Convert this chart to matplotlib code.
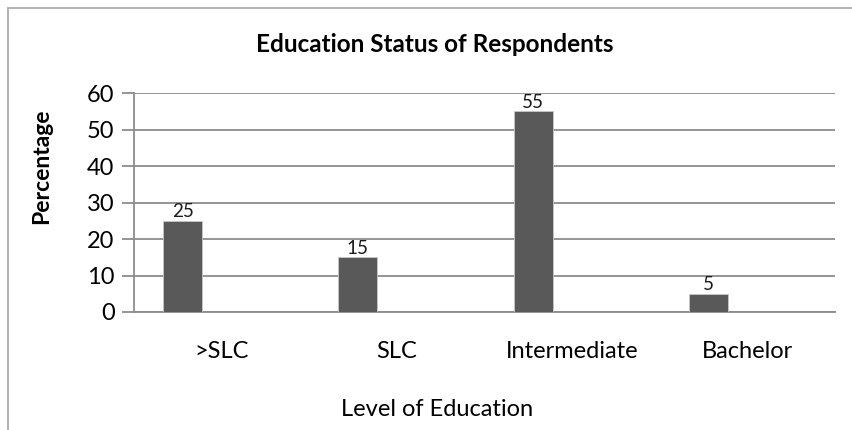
import numpy as np
import matplotlib.pyplot as plt
from matplotlib.patches import Rectangle

# Data
categories = [">SLC", "SLC", "Intermediate", "Bachelor"]
percentages = [25, 15, 55, 5]
y_ticks = [0, 10, 20, 30, 40, 50, 60]

plt.rcParams['font.family'] = ['Lato', 'DejaVu Sans']

W, H = 852, 430
fig = plt.figure(figsize=(W / 100, H / 100), dpi=100)

# chart border (Excel-style frame, runs off the right/bottom edges)
fig.patches.append(Rectangle((8 / W, -0.1), 1.2, 1 - 8 / H + 0.1,
                             transform=fig.transFigure, fill=False,
                             edgecolor='#a6a6a6', linewidth=1.2))

# plot area in pixels: x 134..835, y 93..312
ax = fig.add_axes([134 / W, 1 - 312 / H, (835 - 134) / W, (312 - 93) / H])

x = np.arange(len(categories))
w = 0.2225
bars = ax.bar(x - w, percentages, width=w, color='#595959',
              edgecolor='#c8c8c8', linewidth=0.6, zorder=3)

for b, v in zip(bars, percentages):
    ax.text(b.get_x() + b.get_width() / 2, v + 0.2, str(v),
            ha='center', va='bottom', fontsize=13.5, color='#1a1a1a')

ax.set_xlim(-0.5, len(categories) - 0.5)
ax.set_ylim(0, 60)
ax.set_yticks(y_ticks)
ax.set_yticklabels([str(t) for t in y_ticks], fontsize=17)
ax.yaxis.grid(True, color='#8c8c8c', linewidth=1.3, zorder=0)
ax.set_axisbelow(True)

ax.set_xticks(x)
ax.set_xticklabels(categories, fontsize=17)
ax.tick_params(axis='x', length=0, pad=21)
ax.tick_params(axis='y', length=9, width=1.3, color='#8c8c8c', pad=5)

for s in ['top', 'right']:
    ax.spines[s].set_visible(False)
for s in ['left', 'bottom']:
    ax.spines[s].set_color('#8c8c8c')
    ax.spines[s].set_linewidth(1.3)

fig.text(435 / W, 1 - 45 / H, "Education Status of Respondents",
         ha='center', va='center', fontsize=17.5, fontweight='bold')
fig.text(42 / W, 1 - 166 / H, "Percentage", rotation=90,
         ha='center', va='center', fontsize=16.5, fontweight='bold')
fig.text(437 / W, 1 - 410 / H, "Level of Education",
         ha='center', va='center', fontsize=17)

fig.savefig("out.png", dpi=100)
